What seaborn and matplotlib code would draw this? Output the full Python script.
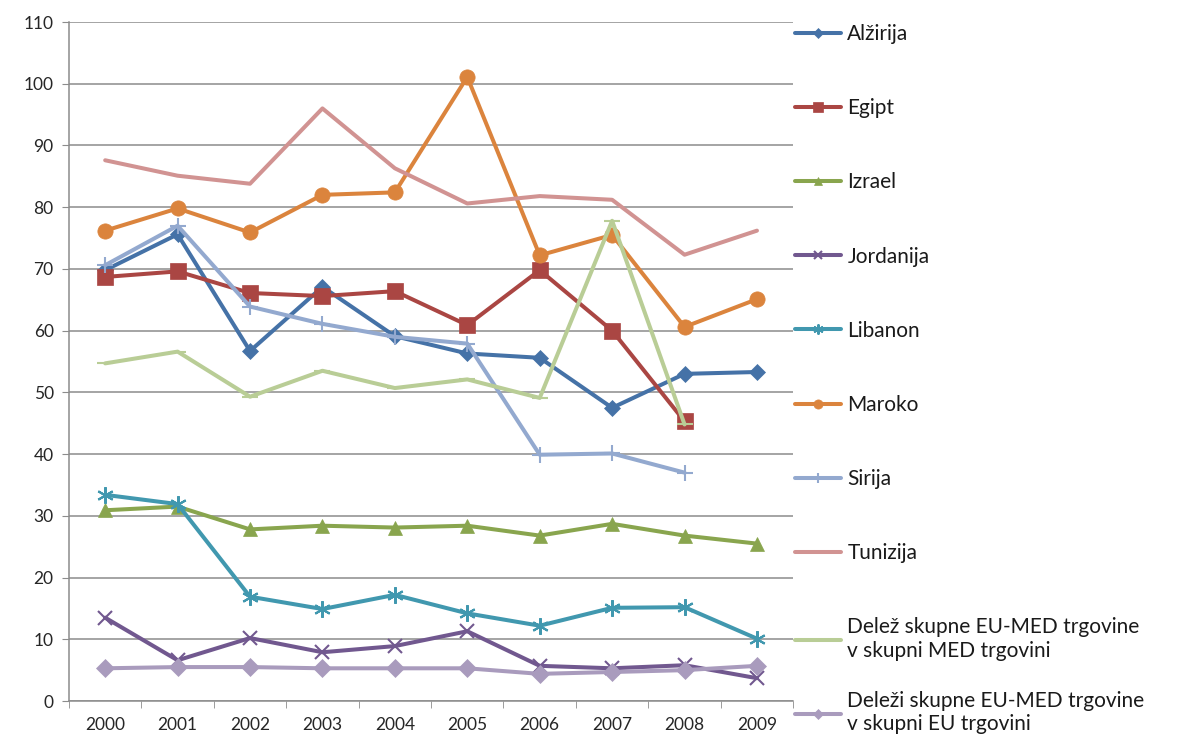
import numpy as np
import pandas as pd
import matplotlib
matplotlib.use("Agg")
import matplotlib.pyplot as plt
import seaborn as sns

# Data
years = [2000, 2001, 2002, 2003, 2004, 2005, 2006, 2007, 2008, 2009]
alzirija = [69.8, 75.6, 56.7, 67.1, 59.1, 56.3, 55.6, 47.5, 53.0, 53.3]
egipt = [68.7, 69.6, 66.1, 65.6, 66.4, 60.9, 69.8, 60.0, 45.3, np.nan]
izrael = [30.9, 31.5, 27.8, 28.4, 28.1, 28.4, 26.8, 28.7, 26.8, 25.5]
jordanija = [13.5, 6.6, 10.2, 7.9, 8.9, 11.3, 5.7, 5.3, 5.8, 3.7]
libanon = [33.4, 31.9, 16.9, 14.9, 17.2, 14.2, 12.2, 15.1, 15.2, 10.1]
maroko = [76.2, 79.8, 75.9, 82.0, 82.4, 101.1, 72.2, 75.5, 60.6, 65.1]
sirija = [70.6, 77.0, 63.9, 61.1, 59.0, 57.9, 39.9, 40.1, 37.0, np.nan]
tunizija = [87.6, 85.1, 83.8, 96.0, 86.3, 80.6, 81.8, 81.2, 72.3, 76.2]
delez_med = [54.7, 56.6, 49.3, 53.5, 50.7, 52.1, 49.1, 77.8, 44.8, np.nan]
delezi_eu = [5.3, 5.5, 5.5, 5.3, 5.3, 5.3, 4.4, 4.7, 5.0, 5.7]

labels = ["Alžirija", "Egipt", "Izrael", "Jordanija", "Libanon", "Maroko",
          "Sirija", "Tunizija",
          "Delež skupne EU-MED trgovine\nv skupni MED trgovini",
          "Deleži skupne EU-MED trgovine\nv skupni EU trgovini"]
series = [alzirija, egipt, izrael, jordanija, libanon, maroko, sirija,
          tunizija, delez_med, delezi_eu]
colors = ["#4572A7", "#AA4643", "#89A54E", "#71588F", "#4198AF", "#DB843D",
          "#93A9CF", "#D19392", "#B9CD96", "#A99BBD"]
markers = ["D", "s", "^", "x", (6, 2, 0), "o", "+", None, "_", "D"]
msizes = [8, 11, 10, 10, 12, 11, 11, 0, 11, 9]

sns.set_style("white")
plt.rcParams["font.family"] = ["Lato", "DejaVu Sans"]

fig = plt.figure(figsize=(11.77, 7.46), dpi=100)
ax = fig.add_axes([0.0586, 0.0603, 0.6153, 0.9102])

for lab, vals, col, mk, ms in zip(labels, series, colors, markers, msizes):
    df = pd.DataFrame({"year": years, "value": vals}).dropna()
    sns.lineplot(data=df, x="year", y="value", ax=ax, color=col,
                 marker=mk if mk is not None else "", markersize=ms,
                 markeredgecolor=col,
                 markeredgewidth=1.5 if mk in ("x", "+", (6, 2, 0), "_") else 0.5,
                 linewidth=2.9, label=lab, sort=False)

ax.set_xlim(1999.5, 2009.5)
ax.set_ylim(0, 110)
ax.set_yticks(range(0, 111, 10))
ax.set_xticks(years)
ax.set_xticks(np.arange(1999.5, 2010, 1), minor=True)
ax.set_xlabel("")
ax.set_ylabel("")
ax.grid(axis="y", color="#8c8c8c", linewidth=1.1)
ax.set_axisbelow(True)
for s in ["top", "right"]:
    ax.spines[s].set_visible(False)
for s in ["left", "bottom"]:
    ax.spines[s].set_color("#8c8c8c")
    ax.spines[s].set_linewidth(1.1)
ax.tick_params(axis="y", which="major", left=True, length=5, color="#8c8c8c",
               labelsize=12.5, pad=6)
ax.tick_params(axis="x", which="major", bottom=False, labelsize=12.5, pad=8)
ax.tick_params(axis="x", which="minor", bottom=True, length=5, color="#8c8c8c")

# Legend: first nine entries, then the last one placed by the axis bottom
handles, leg_labels = ax.get_legend_handles_labels()
leg_kw = dict(frameon=False, fontsize=15, handlelength=2.2, handletextpad=0.3,
              labelspacing=2.6, borderaxespad=0.0, borderpad=0.1,
              markerscale=0.6, labelcolor="#1a1a1a")
leg1 = ax.legend(handles[:9], leg_labels[:9], loc="upper left",
                 bbox_to_anchor=(1.0, 1.0), **leg_kw)
ax.add_artist(leg1)
ax.legend(handles[9:], leg_labels[9:], loc="upper left",
          bbox_to_anchor=(1.0, 0.0175), **leg_kw)

fig.savefig("out.png", dpi=100)
